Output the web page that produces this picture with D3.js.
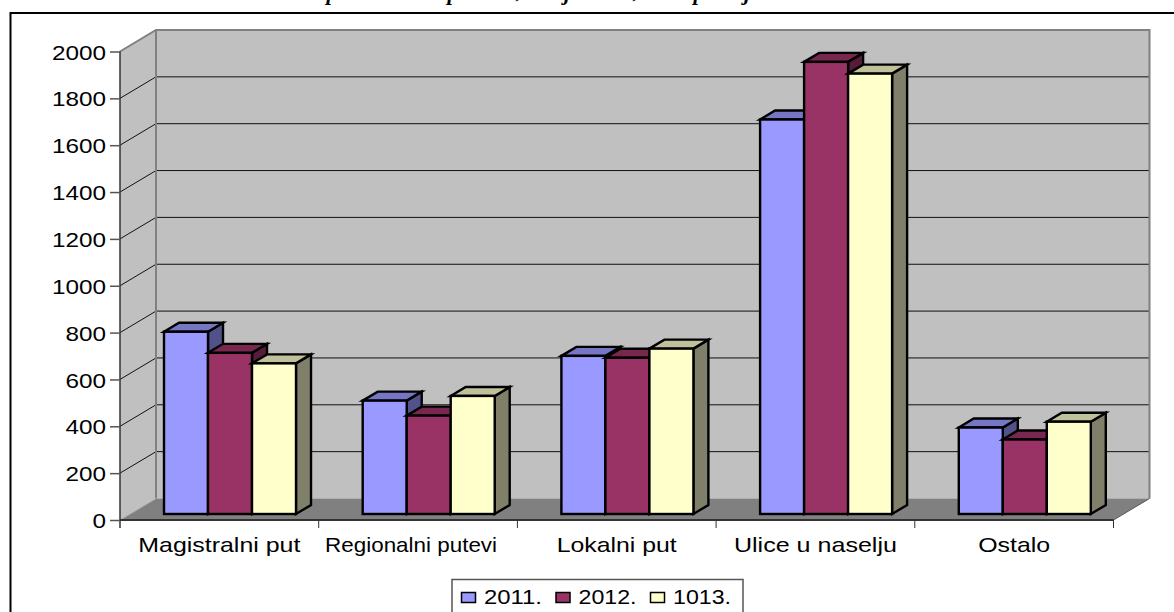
<!DOCTYPE html>
<html><head><meta charset="utf-8">
<script src="https://cdn.jsdelivr.net/npm/d3@7"></script>
<style>
html,body{margin:0;padding:0;background:#fff;overflow:hidden}
svg{display:block}
text{font-family:"Liberation Sans",Arial,sans-serif;fill:#000}
</style></head><body>
<svg id="c" width="1174" height="612"></svg>
<script>
const categories = ["Magistralni put","Regionalni putevi","Lokalni put","Ulice u naselju","Ostalo"];
const seriesNames = ["2011.","2012.","1013."];
const s2011 = [778,484,675,1684,369];
const s2012 = [688,420,667,1930,318];
const s2013 = [643,504,706,1880,394];
const yTicks = [0,200,400,600,800,1000,1200,1400,1600,1800,2000];
const titleGlyphs = ["p","p",",","j",",","p","j"];

const colors = [
  {front:"#9999ff",top:"#7676c4",side:"#52528a"},
  {front:"#993366",top:"#78284f",side:"#561c3a"},
  {front:"#ffffcc",top:"#c0c09a",side:"#80806a"}
];
const values = [s2011,s2012,s2013];

const svg = d3.select("#c");
const Y0=520, Y1=51.5, XL=120, XR=1113.5, DX=36, DY=-21.5;
const y = d3.scaleLinear().domain([0,2000]).range([Y0,Y1]);
const x = d3.scaleBand().domain(categories).range([XL,XR]);
const inner = d3.scaleBand().domain(d3.range(3)).range([44,176]);
const bdx=15, bdy=-9, base=-6;

// clipped title remnants
const titleX = [332,453,519,567,636,699,747];
svg.append("g").selectAll("text").data(titleGlyphs).join("text")
  .attr("x",(d,i)=>titleX[i]).attr("y",(d)=>d===","?-2:0).attr("text-anchor","middle")
  .style("font-family",'"Liberation Serif",serif').style("font-weight","bold").style("font-style","italic")
  .style("font-size","22px").text(d=>d);

// frame
svg.append("path").attr("d","M1174,13H10.5V612").attr("fill","none").attr("stroke","#000").attr("stroke-width",2);

// walls
const pg = pts => "M"+pts.map(p=>p.join(",")).join("L")+"Z";
svg.append("path").attr("d",pg([[XL+DX,Y1+DY],[XR+DX,Y1+DY],[XR+DX,Y0+DY],[XL+DX,Y0+DY]])).attr("fill","#c0c0c0");
svg.append("path").attr("d",pg([[XL,Y1],[XL+DX,Y1+DY],[XL+DX,Y0+DY],[XL,Y0]])).attr("fill","#c0c0c0");
svg.append("path").attr("d",pg([[XL,Y0],[XL+DX,Y0+DY],[XR+DX,Y0+DY],[XR,Y0]])).attr("fill","#808080");

// gridlines
svg.append("g").selectAll("path").data(yTicks.slice(1,-1)).join("path")
  .attr("d",d=>`M${XL},${y(d)}L${XL+DX},${y(d)+DY}H${XR+DX}`)
  .attr("fill","none").attr("stroke","#111").attr("stroke-width",1);
// wall borders
svg.append("path").attr("d",`M${XL},${Y1}L${XL+DX},${Y1+DY}H${XR+DX}V${Y0+DY}`).attr("fill","none").attr("stroke","#808080").attr("stroke-width",2);
svg.append("path").attr("d",`M${XL+DX},${Y1+DY}V${Y0+DY}`).attr("fill","none").attr("stroke","#808080").attr("stroke-width",2);
svg.append("path").attr("d",`M${XL},${Y0}L${XL+DX},${Y0+DY}`).attr("fill","none").attr("stroke","#b0b0b0").attr("stroke-width",1);
svg.append("path").attr("d",`M${XR},${Y0}L${XR+DX},${Y0+DY}`).attr("fill","none").attr("stroke","#555").attr("stroke-width",1);

// bars
categories.forEach((c,ci)=>{
  const g = svg.append("g");
  values.forEach((vals,si)=>{
    const x0 = x(c)+inner(si), w = inner.bandwidth(), yt = y(vals[ci])+base, yb = y(0)+base, col = colors[si];
    const b = g.append("g").attr("stroke","#000").attr("stroke-width",2.4).attr("stroke-linejoin","miter");
    b.append("path").attr("d",pg([[x0+w,yt],[x0+w+bdx,yt+bdy],[x0+w+bdx,yb+bdy],[x0+w,yb]])).attr("fill",col.side);
    b.append("path").attr("d",pg([[x0,yt],[x0+bdx,yt+bdy],[x0+w+bdx,yt+bdy],[x0+w,yt]])).attr("fill",col.top);
    b.append("rect").attr("x",x0).attr("y",yt).attr("width",w).attr("height",yb-yt).attr("fill",col.front);
  });
});

// axes
const fs=21, kY=1.156;
const stretch = (sel,k)=>sel.attr("textLength",function(){return this.getComputedTextLength()*k}).attr("lengthAdjust","spacingAndGlyphs");
const yAxis = svg.append("g").attr("transform",`translate(${XL},0)`)
  .call(d3.axisLeft(y).tickValues(yTicks).tickSize(10).tickPadding(4).tickFormat(d3.format("d")));
yAxis.selectAll("text").style("font-size",fs+"px").attr("dy","0.36em").call(stretch,kY);
yAxis.select(".domain").attr("d",`M0,${Y1}V528`).attr("stroke","#333").attr("stroke-width",1.5).attr("fill","none");
yAxis.selectAll("line").attr("stroke","#555").attr("stroke-width",1.5);

const labelWidths=[162,172,120,163,72], labelShift=[0,-7,0,0,0];
const xAxis = svg.append("g").attr("transform",`translate(0,${Y0})`)
  .call(d3.axisBottom(x).tickSize(0).tickPadding(0));
xAxis.select(".domain").attr("d",`M${XL},0H${XR}`).attr("stroke","#333").attr("stroke-width",2);
xAxis.selectAll(".tick text").style("font-size",fs+"px").attr("y",32).attr("dy",0)
  .attr("dx",(d,i)=>labelShift[i])
  .attr("textLength",(d,i)=>labelWidths[i]).attr("lengthAdjust","spacingAndGlyphs");
svg.append("g").selectAll("line").data(d3.range(1,6)).join("line")
  .attr("x1",i=>XL+i*x.step()).attr("x2",i=>XL+i*x.step()).attr("y1",Y0).attr("y2",528)
  .attr("stroke","#333").attr("stroke-width",1);

// legend
const lg = svg.append("g");
lg.append("rect").attr("x",452).attr("y",579.5).attr("width",291).attr("height",40).attr("fill","#fff").attr("stroke","#555").attr("stroke-width",1.5);
const lgX = d3.scalePoint().domain(d3.range(3)).range([461,650]);
seriesNames.forEach((n,i)=>{
  lg.append("rect").attr("x",lgX(i)+.5).attr("y",592.5).attr("width",14).attr("height",10).attr("fill",colors[i].front).attr("stroke","#000").attr("stroke-width",1.5);
  lg.append("text").attr("x",lgX(i)+23).attr("y",604).style("font-size",fs+"px").attr("textLength",58).attr("lengthAdjust","spacingAndGlyphs").text(n);
});
</script>
</body></html>
